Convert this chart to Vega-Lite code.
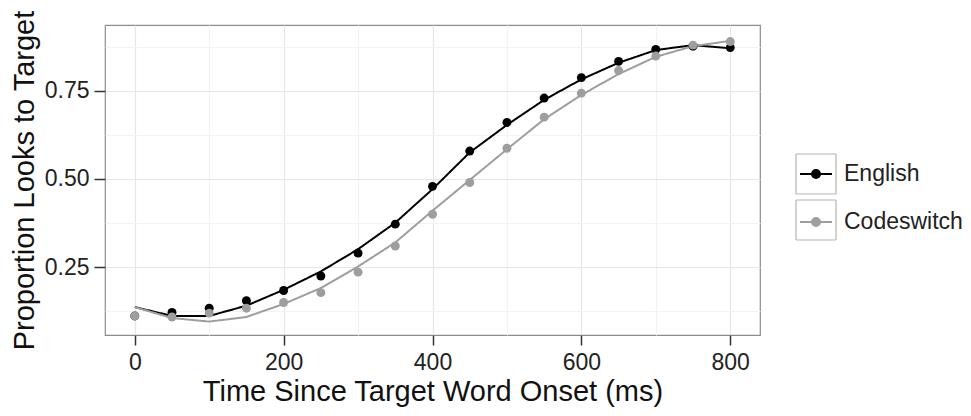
{
  "$schema": "https://vega.github.io/schema/vega-lite/v6.json",
  "width": 655,
  "height": 310,
  "autosize": {"type": "none"},
  "padding": {"left": 105, "top": 25, "right": 211, "bottom": 81},
  "background": "white",
  "config": {
    "view": {"stroke": "#8c8c8c", "strokeWidth": 1.2},
    "axis": {
      "domain": false,
      "tickColor": "#333333",
      "tickWidth": 1.5,
      "labelColor": "#222222",
      "titleColor": "#111111",
      "labelFont": "Liberation Sans",
      "titleFont": "Liberation Sans",
      "titleFontWeight": "normal",
      "gridWidth": 1.2
    }
  },
  "data": {
    "values": [
      {"time": 0, "lang": "English", "prop": 0.112, "fit": 0.137},
      {"time": 50, "lang": "English", "prop": 0.122, "fit": 0.112},
      {"time": 100, "lang": "English", "prop": 0.134, "fit": 0.112},
      {"time": 150, "lang": "English", "prop": 0.155, "fit": 0.141},
      {"time": 200, "lang": "English", "prop": 0.184, "fit": 0.186},
      {"time": 250, "lang": "English", "prop": 0.225, "fit": 0.238},
      {"time": 300, "lang": "English", "prop": 0.29, "fit": 0.301},
      {"time": 350, "lang": "English", "prop": 0.372, "fit": 0.376},
      {"time": 400, "lang": "English", "prop": 0.479, "fit": 0.471},
      {"time": 450, "lang": "English", "prop": 0.579, "fit": 0.575},
      {"time": 500, "lang": "English", "prop": 0.66, "fit": 0.653},
      {"time": 550, "lang": "English", "prop": 0.729, "fit": 0.724},
      {"time": 600, "lang": "English", "prop": 0.787, "fit": 0.782},
      {"time": 650, "lang": "English", "prop": 0.833, "fit": 0.829},
      {"time": 700, "lang": "English", "prop": 0.867, "fit": 0.865},
      {"time": 750, "lang": "English", "prop": 0.876, "fit": 0.879},
      {"time": 800, "lang": "English", "prop": 0.872, "fit": 0.87},
      {"time": 0, "lang": "Codeswitch", "prop": 0.112, "fit": 0.137},
      {"time": 50, "lang": "Codeswitch", "prop": 0.109, "fit": 0.106},
      {"time": 100, "lang": "Codeswitch", "prop": 0.12, "fit": 0.096},
      {"time": 150, "lang": "Codeswitch", "prop": 0.134, "fit": 0.109},
      {"time": 200, "lang": "Codeswitch", "prop": 0.15, "fit": 0.146},
      {"time": 250, "lang": "Codeswitch", "prop": 0.178, "fit": 0.191},
      {"time": 300, "lang": "Codeswitch", "prop": 0.236, "fit": 0.252},
      {"time": 350, "lang": "Codeswitch", "prop": 0.31, "fit": 0.32},
      {"time": 400, "lang": "Codeswitch", "prop": 0.4, "fit": 0.41},
      {"time": 450, "lang": "Codeswitch", "prop": 0.49, "fit": 0.497},
      {"time": 500, "lang": "Codeswitch", "prop": 0.587, "fit": 0.584},
      {"time": 550, "lang": "Codeswitch", "prop": 0.675, "fit": 0.669},
      {"time": 600, "lang": "Codeswitch", "prop": 0.743, "fit": 0.738},
      {"time": 650, "lang": "Codeswitch", "prop": 0.807, "fit": 0.797},
      {"time": 700, "lang": "Codeswitch", "prop": 0.848, "fit": 0.846},
      {"time": 750, "lang": "Codeswitch", "prop": 0.879, "fit": 0.876},
      {"time": 800, "lang": "Codeswitch", "prop": 0.889, "fit": 0.891}
    ]
  },
  "encoding": {
    "x": {
      "field": "time",
      "type": "quantitative",
      "title": "Time Since Target Word Onset (ms)",
      "scale": {"domain": [-40, 840], "nice": false, "zero": false},
      "axis": {
        "values": [0, 100, 200, 300, 400, 500, 600, 700, 800],
        "labelExpr": "datum.value % 200 === 0 ? datum.label : ''",
        "tickOpacity": {"condition": {"test": "datum.value % 200 !== 0", "value": 0}, "value": 1},
        "gridColor": {"condition": {"test": "datum.value % 200 !== 0", "value": "#f3f3f3"}, "value": "#e6e6e6"},
        "tickSize": 10,
        "labelPadding": 6,
        "labelFontSize": 23,
        "titleFontSize": 29,
        "titlePadding": 3
      }
    },
    "color": {
      "field": "lang",
      "type": "nominal",
      "sort": ["English", "Codeswitch"],
      "scale": {"range": ["#000000", "#9e9e9e"]},
      "legend": {
        "title": null,
        "orient": "none",
        "legendX": 690,
        "legendY": 128,
        "padding": 0,
        "rowPadding": 0,
        "symbolType": "M-0.97,-0.97M0.97,0.97M-0.8,0L0.8,0M-0.2,0A0.2,0.2,0,1,1,0.2,0A0.2,0.2,0,1,1,-0.2,0Z",
        "symbolSize": 1600,
        "symbolStrokeWidth": 2,
        "symbolOpacity": 1,
        "labelFont": "Liberation Sans",
        "labelFontSize": 23,
        "labelColor": "#222222",
        "labelOffset": 7,
        "labelBaseline": "middle"
      }
    }
  },
  "layer": [
    {
      "mark": {"type": "line", "strokeWidth": 2},
      "encoding": {
        "y": {
          "field": "fit",
          "type": "quantitative",
          "title": "Proportion Looks to Target",
          "scale": {"domain": [0.058, 0.936], "nice": false, "zero": false},
          "axis": {
            "values": [0.125, 0.25, 0.375, 0.5, 0.625, 0.75, 0.875],
            "format": ".2f",
            "labelExpr": "abs(datum.value * 4 - round(datum.value * 4)) < 0.001 ? datum.label : ''",
            "tickOpacity": {"condition": {"test": "abs(datum.value * 4 - round(datum.value * 4)) > 0.001", "value": 0}, "value": 1},
            "gridColor": {"condition": {"test": "abs(datum.value * 4 - round(datum.value * 4)) > 0.001", "value": "#f3f3f3"}, "value": "#e6e6e6"},
            "tickSize": 11,
            "labelPadding": 5,
            "labelFontSize": 23,
            "titleFontSize": 29,
            "titlePadding": 5
          }
        },
        "strokeDash": {
          "field": "lang",
          "type": "nominal",
          "scale": {"domain": ["English", "Codeswitch"], "range": [[1, 0], [1, 0]]},
          "legend": {
            "title": null,
            "orient": "none",
            "legendX": 690,
            "legendY": 128,
            "padding": 0,
            "rowPadding": 0,
            "symbolType": "square",
            "symbolSize": 1600,
            "symbolStrokeColor": "#b5b5b5",
            "symbolFillColor": "transparent",
            "symbolStrokeWidth": 1.2,
            "labelFontSize": 23,
            "labelExpr": "''",
            "labelBaseline": "middle"
          }
        }
      }
    },
    {
      "mark": {"type": "point", "filled": true, "size": 80, "opacity": 1},
      "encoding": {
        "y": {"field": "prop", "type": "quantitative", "title": "Proportion Looks to Target"}
      }
    }
  ]
}
